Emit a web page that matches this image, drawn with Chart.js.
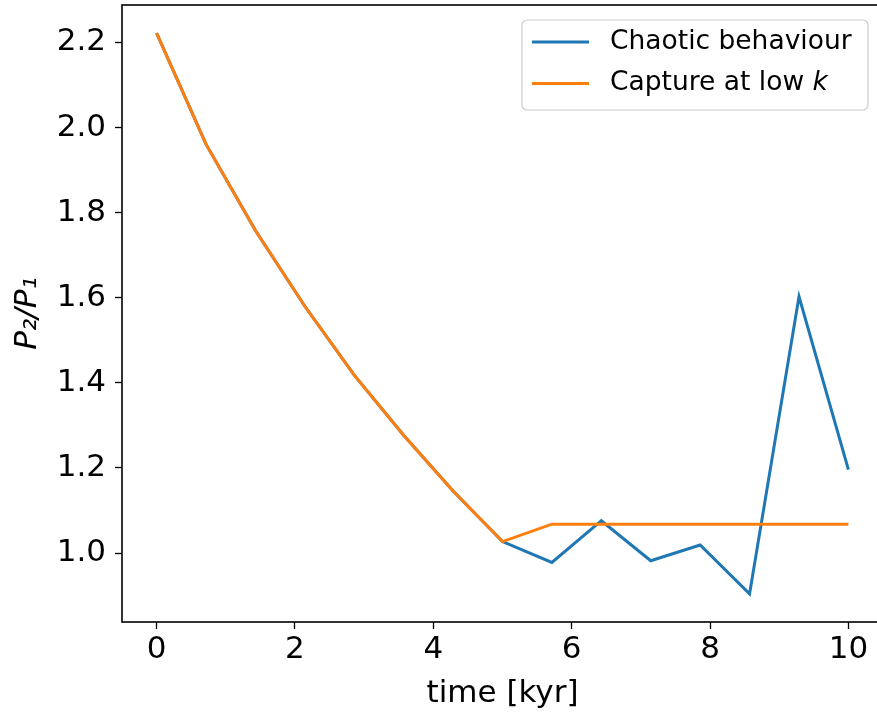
<!DOCTYPE html>
<html>
<head>
<meta charset="utf-8">
<script src="https://cdn.jsdelivr.net/npm/chart.js@4"></script>
<style>
  html, body { margin: 0; padding: 0; background: #fff; overflow: hidden; }
  canvas { display: block; }
</style>
</head>
<body>
<canvas id="ratioChart" width="950" height="713"></canvas>
<script>
// values
const times = [0, 0.714, 1.429, 2.143, 2.857, 3.571, 4.286, 5.0, 5.714, 6.429, 7.143, 7.857, 8.571, 9.286, 10];
const chaotic = [2.222, 1.961, 1.758, 1.580, 1.418, 1.277, 1.146, 1.027, 0.978, 1.076, 0.982, 1.019, 0.904, 1.603, 1.196];
const capture = [2.222, 1.961, 1.758, 1.580, 1.418, 1.277, 1.146, 1.027, 1.068, 1.068, 1.068, 1.068, 1.068, 1.068, 1.068];
const xTicks = [0, 2, 4, 6, 8, 10];
const yTicks = [1.0, 1.2, 1.4, 1.6, 1.8, 2.0, 2.2];
const seriesNames = ['Chaotic behaviour', 'Capture at low k'];

const FONT = "'DejaVu Sans', sans-serif";

const toPoints = function(ys) {
    return times.map(function(t, i) { return {x: t, y: ys[i]}; });
};

// matplotlib-ish frame round the axes
const framePlugin = {
    id: 'frame',
    afterDraw: function(chart) {
        const a = chart.chartArea;
        const ctx = chart.ctx;
        ctx.save();
        ctx.strokeStyle = '#000';
        ctx.lineWidth = 1.6;
        ctx.strokeRect(a.left, a.top, a.right - a.left, a.bottom - a.top);
        ctx.restore();
    }
};

// legend box in the upper right corner, drawn like matplotlib's
const legendPlugin = {
    id: 'mplLegend',
    afterDraw: function(chart) {
        const a = chart.chartArea;
        const ctx = chart.ctx;
        const ds = chart.data.datasets;
        const right = 868, top = a.top + 15;
        const w = 346, h = 90;
        const left = right - w;
        ctx.save();
        ctx.fillStyle = 'rgba(255,255,255,0.8)';
        ctx.strokeStyle = '#cccccc';
        ctx.lineWidth = 1.2;
        ctx.beginPath();
        ctx.roundRect(left, top, w, h, 5);
        ctx.fill();
        ctx.stroke();

        ctx.font = '26.5px ' + FONT;
        ctx.textBaseline = 'middle';
        ds.forEach(function(d, i) {
            const y = top + 22 + i * 41.5;
            ctx.strokeStyle = d.borderColor;
            ctx.lineWidth = 3;
            ctx.beginPath();
            ctx.moveTo(left + 10, y);
            ctx.lineTo(left + 67, y);
            ctx.stroke();
            ctx.fillStyle = '#000';
            const txt = d.label;
            if (txt.endsWith(' k')) {
                const head = txt.slice(0, -1);
                ctx.fillText(head, left + 88, y);
                const hw = ctx.measureText(head).width;
                ctx.font = 'italic 26.5px ' + FONT;
                ctx.fillText('k', left + 88 + hw, y);
                ctx.font = '26.5px ' + FONT;
            } else {
                ctx.fillText(txt, left + 88, y);
            }
        });
        ctx.restore();
    }
};

new Chart(document.getElementById('ratioChart').getContext('2d'), {
    type: 'line',
    data: {
        datasets: [
            {
                label: seriesNames[0],
                data: toPoints(chaotic),
                borderColor: '#1f77b4',
                backgroundColor: '#1f77b4',
                borderWidth: 3,
                pointRadius: 0,
                tension: 0,
                order: 1
            },
            {
                label: seriesNames[1],
                data: toPoints(capture),
                borderColor: '#ff7f0e',
                backgroundColor: '#ff7f0e',
                borderWidth: 3,
                pointRadius: 0,
                tension: 0,
                order: 0
            }
        ]
    },
    options: {
        responsive: false,
        animation: false,
        devicePixelRatio: 1,
        layout: { padding: { left: 0, right: 67, top: 5, bottom: 0 } },
        plugins: {
            legend: { display: false },
            tooltip: { enabled: false }
        },
        scales: {
            x: {
                type: 'linear',
                min: -0.5,
                max: 10.5,
                afterBuildTicks: function(scale) {
                    scale.ticks = xTicks.map(function(v) { return {value: v}; });
                },
                afterFit: function(scale) {
                    scale.height = 91;
                    scale.paddingLeft = 0;
                    scale.paddingRight = 0;
                },
                grid: { drawOnChartArea: false, drawTicks: true, tickLength: 7, tickColor: '#000', tickWidth: 1.3 },
                border: { display: false },
                ticks: {
                    color: '#000',
                    font: { family: FONT, size: 31 },
                    padding: 2,
                    maxRotation: 0,
                    callback: function(v) { return String(v); }
                },
                title: {
                    display: true,
                    text: 'time [kyr]',
                    color: '#000',
                    font: { family: FONT, size: 31 },
                    padding: { top: 0, bottom: 0 }
                }
            },
            y: {
                type: 'linear',
                min: 0.838,
                max: 2.288,
                afterBuildTicks: function(scale) {
                    scale.ticks = yTicks.map(function(v) { return {value: v}; });
                },
                afterFit: function(scale) {
                    scale.width = 122;
                    scale.paddingTop = 0;
                    scale.paddingBottom = 0;
                },
                grid: { drawOnChartArea: false, drawTicks: true, tickLength: 7, tickColor: '#000', tickWidth: 1.3 },
                border: { display: false },
                ticks: {
                    color: '#000',
                    font: { family: FONT, size: 31 },
                    padding: 9,
                    callback: function(v) { return v.toFixed(1); }
                },
                title: {
                    display: true,
                    text: 'P\u2082/P\u2081',
                    color: '#000',
                    font: { family: FONT, size: 31, style: 'italic' },
                    padding: { top: 9, bottom: 0 }
                }
            }
        }
    },
    plugins: [framePlugin, legendPlugin]
});
</script>
</body>
</html>
